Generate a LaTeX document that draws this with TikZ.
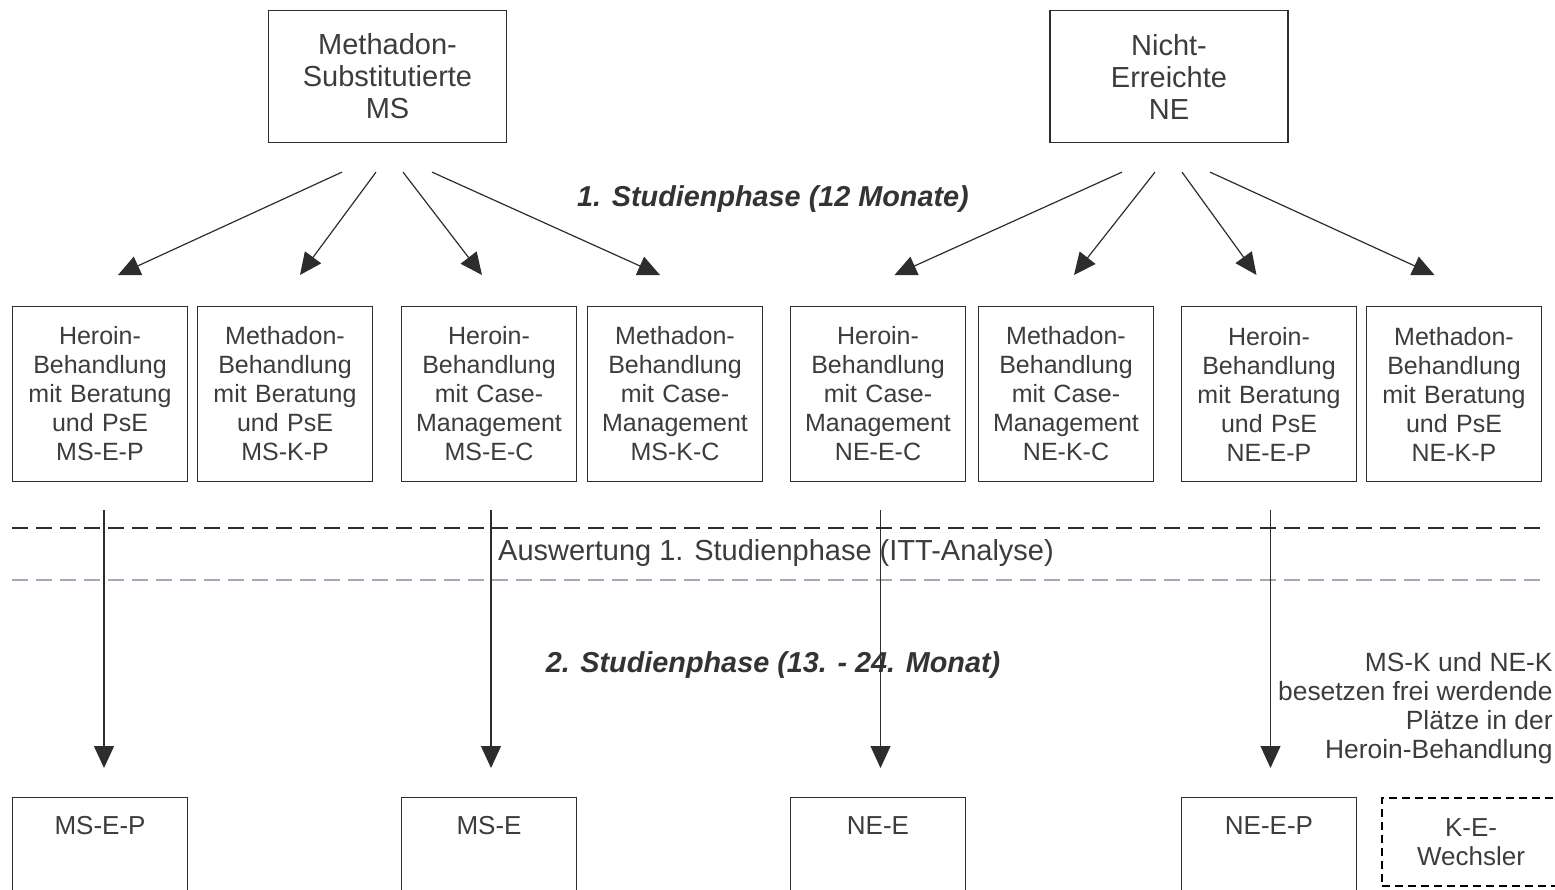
\documentclass[tikz,border=0pt]{standalone}
\usepackage{fontspec}
\setmainfont{Liberation Sans}
\usepackage{tikz}
\usetikzlibrary{arrows.meta, positioning}
\definecolor{mydark}{RGB}{45,45,45}
\definecolor{mytext}{RGB}{60,60,60}
\definecolor{mygrey}{RGB}{165,165,185}
\tikzset{
  topbox/.style={rectangle, draw=mydark, text=mytext, text width=110pt,
    align=center, minimum width=119pt, minimum height=66pt, inner sep=0pt,
    line width=0.6pt, font=\fontsize{14.5}{16}\selectfont},
  armbox/.style={rectangle, draw=mydark, text=mytext, text width=86pt,
    align=center, minimum width=87.4pt, minimum height=87.4pt, inner sep=0pt,
    line width=0.6pt, font=\fontsize{12.5}{14.5}\selectfont},
  endbox/.style={rectangle, draw=mydark, text=mytext, minimum width=87.4pt,
    text height=14.5pt, text depth=45pt, inner xsep=0pt, inner ysep=4pt,
    line width=0.6pt, font=\fontsize{13}{15}\selectfont},
  swapbox/.style={rectangle, draw=black, dash pattern=on 4pt off 2.5pt,
    text=mytext, text width=80pt, align=center, minimum width=89pt,
    minimum height=44pt, inner sep=0pt, line width=1pt,
    font=\fontsize{13}{14.5}\selectfont},
  phase/.style={text=black!80, font=\fontsize{14.4}{16}\selectfont\bfseries\itshape},
  note/.style={text=mytext, font=\fontsize{14.5}{16}\selectfont},
  sidenote/.style={text=mytext, align=right, inner sep=0pt,
    font=\fontsize{13.2}{14.5}\selectfont},
  arrow/.style={-{Triangle[length=11pt,width=10pt]}, line width=0.6pt, color=mydark},
  cutline/.style={dash pattern=on 8pt off 4pt, line width=1.3pt, color=mydark},
  greyline/.style={dash pattern=on 8pt off 4pt, line width=1.3pt, color=mygrey}
}

\begin{document}
\begin{tikzpicture}
  \clip (0,0) rectangle (777.5pt,-445pt);
  \node[topbox] (ms) at (193.75pt,-38.25pt) {Methadon-\\Substitutierte\\MS};
  \node[topbox] (ne) at (584.5pt,-38.25pt) {Nicht-\\Erreichte\\NE};

  \node[armbox] (msep) at (50pt,-197pt) {Heroin-\\Behandlung\\mit Beratung\\und PsE\\MS-E-P};
  \node[armbox, right=4.5pt of msep] (mskp) {Methadon-\\Behandlung\\mit Beratung\\und PsE\\MS-K-P};
  \node[armbox, right=14pt of mskp] (msec) {Heroin-\\Behandlung\\mit Case-\\Management\\MS-E-C};
  \node[armbox, right=5pt of msec] (mskc) {Methadon-\\Behandlung\\mit Case-\\Management\\MS-K-C};
  \node[armbox, right=13.5pt of mskc] (neec) {Heroin-\\Behandlung\\mit Case-\\Management\\NE-E-C};
  \node[armbox, right=6pt of neec] (nekc) {Methadon-\\Behandlung\\mit Case-\\Management\\NE-K-C};
  \node[armbox, right=13.5pt of nekc] (neep) {Heroin-\\Behandlung\\mit Beratung\\und PsE\\NE-E-P};
  \node[armbox, right=4.5pt of neep] (nekp) {Methadon-\\Behandlung\\mit Beratung\\und PsE\\NE-K-P};

  \node[endbox, below=157.5pt of msep] (bmsep) {MS-E-P};
  \node[endbox, below=157.5pt of msec] (bmse) {MS-E};
  \node[endbox, below=157.5pt of neec] (bnee) {NE-E};
  \node[endbox, below=157.5pt of neep] (bneep) {NE-E-P};
  \node[swapbox, below right=157.5pt and 12pt of neep.south east] (kew) {K-E-\\Wechsler};

  \node[phase] (phaseone) at (386.5pt,-99.5pt) {1. Studienphase (12 Monate)};
  \node[note] (itt) at (388pt,-276.5pt) {Auswertung 1. Studienphase (ITT-Analyse)};
  \node[phase] (phasetwo) at (386.5pt,-332.5pt) {2. Studienphase (13. - 24. Monat)};
  \node[sidenote, anchor=east] (swap) at (776.5pt,-354.25pt) {MS-K und NE-K\\besetzen frei werdende\\Plätze in der\\Heroin-Behandlung};

  \coordinate (cut1) at (0,-264pt);
  \coordinate (cut2) at (0,-290pt);
  \draw[cutline] (msep.west |- cut1) -- (nekp.east |- cut1);
  \draw[greyline] (msep.west |- cut2) -- (nekp.east |- cut2);

  \draw[arrow] ([xshift=-22.75pt,yshift=-14.5pt]ms.south) -- ([xshift=9pt,yshift=15.5pt]msep.north);
  \draw[arrow] ([xshift=-5.75pt,yshift=-14.5pt]ms.south) -- ([xshift=7.5pt,yshift=15.5pt]mskp.north);
  \draw[arrow] ([xshift=7.75pt,yshift=-14.5pt]ms.south) -- ([xshift=-3.5pt,yshift=15.5pt]msec.north);
  \draw[arrow] ([xshift=22.25pt,yshift=-14.5pt]ms.south) -- ([xshift=-7.5pt,yshift=15.5pt]mskc.north);
  \draw[arrow] ([xshift=-23.5pt,yshift=-14.5pt]ne.south) -- ([xshift=8.25pt,yshift=15.5pt]neec.north);
  \draw[arrow] ([xshift=-7pt,yshift=-14.5pt]ne.south) -- ([xshift=4pt,yshift=15.5pt]nekc.north);
  \draw[arrow] ([xshift=6.5pt,yshift=-14.5pt]ne.south) -- ([xshift=-6.25pt,yshift=15.5pt]neep.north);
  \draw[arrow] ([xshift=20.5pt,yshift=-14.5pt]ne.south) -- ([xshift=-9.75pt,yshift=15.5pt]nekp.north);

  \draw[arrow] ([xshift=2pt,yshift=-14pt]msep.south) -- ([xshift=2pt,yshift=14.5pt]bmsep.north);
  \draw[arrow] ([xshift=1pt,yshift=-14pt]msec.south) -- ([xshift=1pt,yshift=14.5pt]bmse.north);
  \draw[arrow] ([xshift=1.25pt,yshift=-14pt]neec.south) -- ([xshift=1.25pt,yshift=14.5pt]bnee.north);
  \draw[arrow] ([xshift=0.75pt,yshift=-14pt]neep.south) -- ([xshift=0.75pt,yshift=14.5pt]bneep.north);
\end{tikzpicture}
\end{document}
